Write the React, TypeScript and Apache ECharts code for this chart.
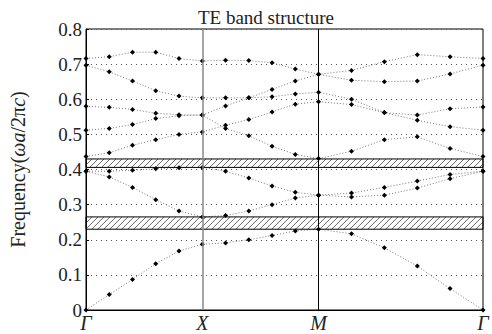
import React, { useEffect, useRef } from 'react';
import * as echarts from 'echarts';

// k-path positions (Γ-X, X-M, M-Γ), 5 steps per segment
const kPos = [0, 0.2, 0.4, 0.6, 0.8, 1, 1.2, 1.4, 1.6, 1.8, 2, 2.283, 2.566, 2.849, 3.131, 3.414];
const kTickPos = [0, 1, 2, 3.414];
const kTickLabels = ['Γ', 'X', 'M', 'Γ'];

const band1 = [0, 0.044, 0.087, 0.132, 0.168, 0.187, 0.191, 0.2, 0.212, 0.225, 0.23, 0.217, 0.177, 0.125, 0.061, 0];
const band2 = [0.395, 0.379, 0.349, 0.314, 0.282, 0.265, 0.269, 0.282, 0.3, 0.319, 0.327, 0.322, 0.327, 0.347, 0.374, 0.395];
const band3 = [0.395, 0.395, 0.398, 0.402, 0.405, 0.406, 0.395, 0.376, 0.353, 0.335, 0.327, 0.333, 0.349, 0.367, 0.386, 0.395];
const band4 = [0.437, 0.448, 0.469, 0.485, 0.5, 0.507, 0.526, 0.542, 0.564, 0.586, 0.593, 0.585, 0.562, 0.555, 0.573, 0.578];
const band5 = [0.512, 0.517, 0.528, 0.545, 0.553, 0.555, 0.517, 0.496, 0.466, 0.443, 0.431, 0.452, 0.485, 0.493, 0.46, 0.437];
const band6 = [0.58, 0.577, 0.571, 0.56, 0.556, 0.555, 0.581, 0.604, 0.628, 0.652, 0.671, 0.682, 0.707, 0.727, 0.721, 0.716];
const band7 = [0.697, 0.678, 0.652, 0.624, 0.609, 0.604, 0.604, 0.604, 0.607, 0.615, 0.62, 0.6, 0.562, 0.54, 0.522, 0.512];
const band8 = [0.716, 0.721, 0.734, 0.734, 0.716, 0.709, 0.711, 0.71, 0.704, 0.686, 0.671, 0.654, 0.65, 0.652, 0.672, 0.697];
const bands = [band1, band2, band3, band4, band5, band6, band7, band8];

// photonic band gaps [lower, upper]
const gaps = [
  [0.406, 0.43],
  [0.23, 0.265],
];

const FONT = 'Liberation Serif';
const XMAX = 3.414;

export default function App() {
  const ref = useRef<HTMLDivElement>(null);
  useEffect(() => {
    if (!ref.current) return;
    document.body.style.margin = '0';
    document.body.style.overflow = 'hidden';
    const chart = echarts.init(ref.current, null, { renderer: 'svg' });

    const lineSeries = bands.map((b, i) => ({
      type: 'line',
      name: 'band' + (i + 1),
      data: b.map((v, j) => [kPos[j], v]),
      symbol: 'diamond',
      symbolSize: 5,
      itemStyle: { color: '#000' },
      lineStyle: { color: '#777', width: 1, type: [1, 2] },
      z: 3,
      markLine:
        i === 0
          ? {
              symbol: 'none',
              silent: true,
              label: { show: false },
              data: [
                { xAxis: kTickPos[1], lineStyle: { color: '#888', width: 1.5, type: 'solid' } },
                { xAxis: kTickPos[2], lineStyle: { color: '#000', width: 1, type: 'solid' } },
              ],
            }
          : undefined,
    }));

    const hatchSeries = {
      type: 'custom',
      data: gaps.map((g) => [g[0], g[1]]),
      z: 4,
      silent: true,
      renderItem: (params: any, api: any) => {
        const lo = api.value(0);
        const hi = api.value(1);
        const p0 = api.coord([0, hi]);
        const p1 = api.coord([XMAX, lo]);
        const x0 = p0[0], y0 = p0[1], x1 = p1[0], y1 = p1[1];
        const h = y1 - y0;
        const children: any[] = [];
        const step = 6;
        for (let c = x0 - h; c < x1; c += step) {
          let sx = c, sy = y1, ex = c + h, ey = y0;
          if (sx < x0) { sy = y1 - (x0 - sx); sx = x0; }
          if (ex > x1) { ey = y0 + (ex - x1); ex = x1; }
          if (ex <= sx) continue;
          children.push({
            type: 'line',
            shape: { x1: sx, y1: sy, x2: ex, y2: ey },
            style: { stroke: '#444', lineWidth: 0.8 },
          });
        }
        children.push({
          type: 'rect',
          shape: { x: x0, y: y0, width: x1 - x0, height: h },
          style: { fill: 'none', stroke: '#000', lineWidth: 1 },
        });
        return { type: 'group', children };
      },
    };

    chart.setOption({
      animation: false,
      title: {
        text: 'TE band structure',
        left: 261,
        top: 3,
        textAlign: 'center',
        textStyle: { fontFamily: FONT, fontSize: 19, fontWeight: 'normal', color: '#222' },
      },
      grid: {
        left: 80,
        right: 9,
        top: 29,
        bottom: 24,
        show: true,
        borderColor: '#000',
        borderWidth: 1,
      },
      xAxis: {
        type: 'value',
        min: 0,
        max: XMAX,
        splitLine: { show: false },
        axisLine: { lineStyle: { color: '#000' } },
        axisTick: { show: false },
        axisLabel: {
          customValues: kTickPos,
          formatter: (v: number) => {
            const idx = kTickPos.findIndex((p) => Math.abs(p - v) < 1e-6);
            return idx >= 0 ? kTickLabels[idx] : '';
          },
          fontFamily: FONT,
          fontSize: 20,
          fontStyle: 'italic',
          color: '#222',
          margin: 3,
          showMinLabel: true,
          showMaxLabel: true,
        },
      },
      yAxis: {
        type: 'value',
        min: 0,
        max: 0.8,
        interval: 0.1,
        name: '{n|Frequency(}{i|ωa}{n|/2π}{i|c}{n|)}',
        nameLocation: 'middle',
        nameGap: 58,
        nameTextStyle: {
          rich: {
            n: { fontFamily: FONT, fontSize: 20, color: '#222' },
            i: { fontFamily: FONT, fontSize: 20, fontStyle: 'italic', color: '#222' },
          },
        },
        axisLine: { show: true, lineStyle: { color: '#000' } },
        axisTick: { show: true, inside: true, length: 3, lineStyle: { color: '#000' } },
        axisLabel: { fontFamily: FONT, fontSize: 19, color: '#222', margin: 4 },
        splitLine: { show: true, lineStyle: { color: '#555', width: 1, type: [1, 4] } },
      },
      series: [...lineSeries, hatchSeries],
    });
    return () => chart.dispose();
  }, []);
  return <div ref={ref} style={{ width: 492, height: 334 }} />;
}
